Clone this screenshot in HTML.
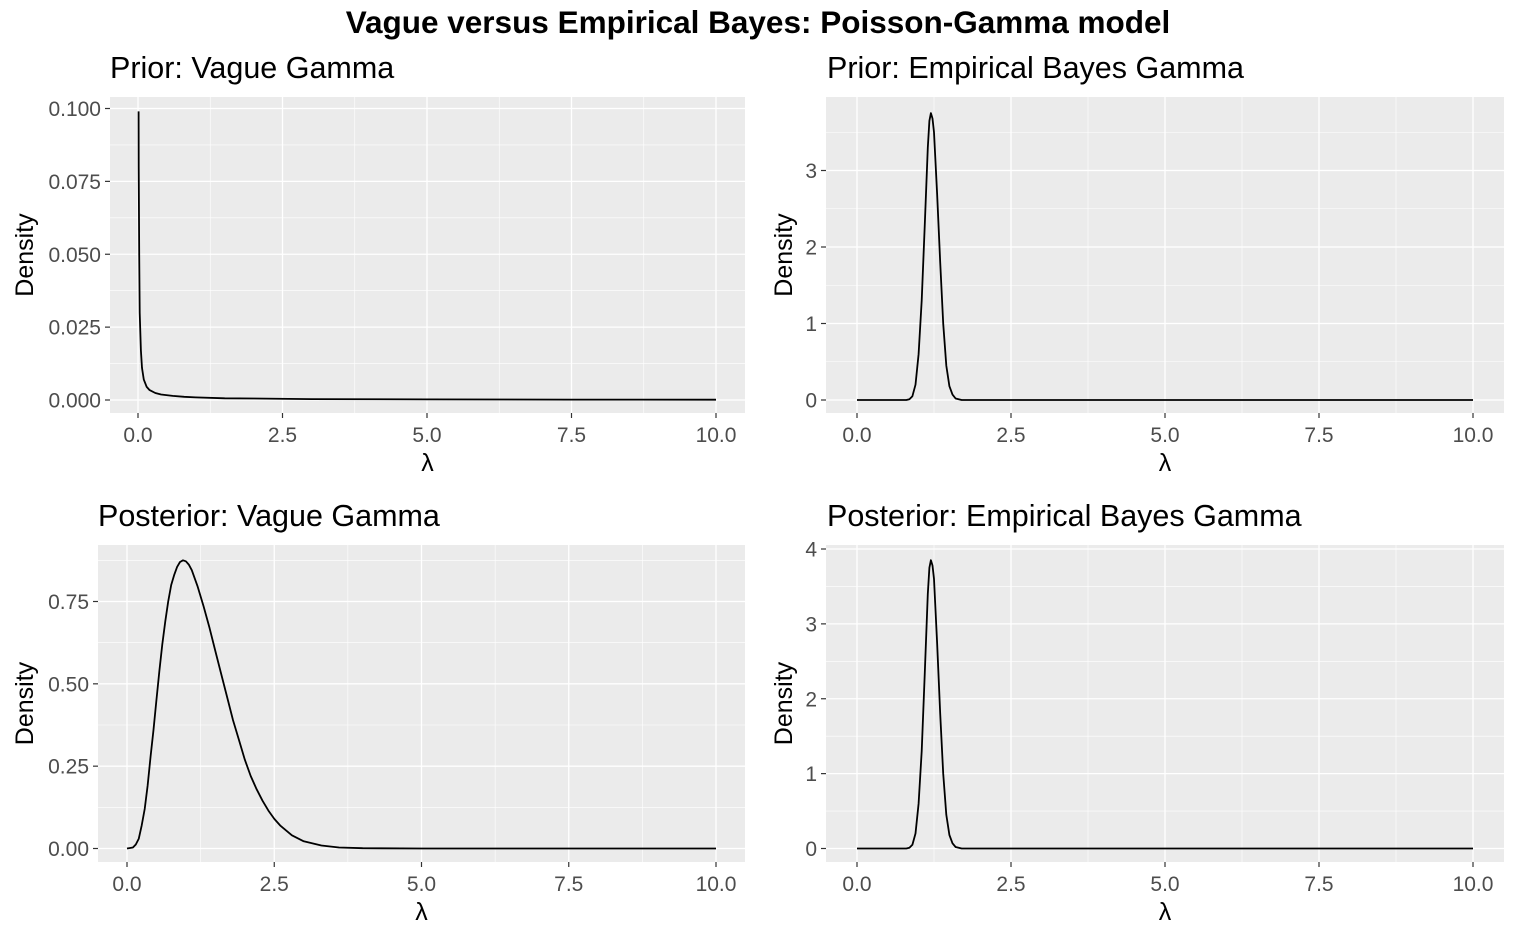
<!DOCTYPE html>
<html><head><meta charset="utf-8"><style>
body{margin:0;background:#fff;font-family:"Liberation Sans",sans-serif}
</style></head><body>
<svg width="1517" height="939" xmlns="http://www.w3.org/2000/svg" font-family="Liberation Sans, sans-serif">
<text x="758" y="33" text-anchor="middle" font-size="31.5" font-weight="bold">Vague versus Empirical Bayes: Poisson-Gamma model</text>
<g id="root"></g>
</svg>
<script>
const xTicks=[0,2.5,5,7.5,10];
const xTickLabels=["0.0","2.5","5.0","7.5","10.0"];
const p1Y=[0,0.025,0.05,0.075,0.1];
const p1YLabels=["0.000","0.025","0.050","0.075","0.100"];
const p2Y=[0,1,2,3];
const p2YLabels=["0","1","2","3"];
const p3Y=[0,0.25,0.5,0.75];
const p3YLabels=["0.00","0.25","0.50","0.75"];
const p4Y=[0,1,2,3,4];
const p4YLabels=["0","1","2","3","4"];
const priorVagueX=[0.01,0.012,0.02,0.03,0.05,0.07,0.1,0.15,0.2,0.3,0.4,0.6,0.8,1,1.5,2,3,5,7.5,10];
const priorVagueY=[0.099,0.08,0.05,0.03,0.017,0.011,0.007,0.0045,0.0034,0.0024,0.0019,0.0014,0.0011,0.0009,0.0006,0.0005,0.0003,0.0002,0.00015,0.0001];
const ebX=[0,0.8,0.85,0.9,0.95,1.0,1.05,1.1,1.15,1.175,1.2,1.225,1.25,1.3,1.35,1.4,1.45,1.5,1.55,1.6,1.7,10];
const priorEbY=[0,0,0.01,0.05,0.2,0.6,1.3,2.3,3.3,3.65,3.75,3.68,3.5,2.7,1.8,1.0,0.45,0.18,0.07,0.02,0,0];
const postEbY=[0,0,0.01,0.05,0.2,0.6,1.3,2.35,3.4,3.75,3.85,3.78,3.6,2.75,1.8,1.0,0.45,0.18,0.07,0.02,0,0];
const postVagueX=[0,0.1,0.15,0.2,0.25,0.3,0.35,0.4,0.45,0.5,0.55,0.6,0.65,0.7,0.75,0.8,0.85,0.9,0.95,1.0,1.05,1.1,1.2,1.3,1.4,1.5,1.6,1.7,1.8,1.9,2.0,2.1,2.2,2.3,2.4,2.5,2.6,2.8,3.0,3.3,3.6,4,5,10];
const postVagueY=[0,0.003,0.012,0.03,0.07,0.12,0.19,0.28,0.36,0.45,0.54,0.62,0.69,0.75,0.8,0.83,0.855,0.87,0.875,0.872,0.862,0.845,0.795,0.735,0.67,0.6,0.53,0.46,0.39,0.33,0.27,0.22,0.18,0.145,0.115,0.09,0.07,0.04,0.022,0.009,0.003,0.001,0,0];

const NS="http://www.w3.org/2000/svg";
const root=document.getElementById('root');
function mk(tag,attrs,parent){const e=document.createElementNS(NS,tag);for(const k in attrs)e.setAttribute(k,attrs[k]);(parent||root).appendChild(e);return e;}

const panels=[
 {name:"prior-vague",title:"Prior: Vague Gamma",tx:110,L:110,R:745,T:97,B:413,x0:138,x10:716,y0:400,yTop:108.5,yTopVal:0.1,yt:p1Y,yl:p1YLabels,minor:0.0125,ymax:0.1,xs:priorVagueX,ys:priorVagueY},
 {name:"prior-eb",title:"Prior: Empirical Bayes Gamma",tx:827,L:826,R:1504,T:97,B:413,x0:857,x10:1473,y0:400,yTop:170.5,yTopVal:3,yt:p2Y,yl:p2YLabels,minor:0.5,ymax:3.5,xs:ebX,ys:priorEbY},
 {name:"posterior-vague",title:"Posterior: Vague Gamma",tx:98,L:98,R:745,T:545,B:862,x0:127,x10:716,y0:848.5,yTop:601.5,yTopVal:0.75,yt:p3Y,yl:p3YLabels,minor:0.125,ymax:0.875,xs:postVagueX,ys:postVagueY},
 {name:"posterior-eb",title:"Posterior: Empirical Bayes Gamma",tx:827,L:826,R:1504,T:545,B:862,x0:857,x10:1473,y0:848.5,yTop:549,yTopVal:4,yt:p4Y,yl:p4YLabels,minor:0.5,ymax:3.5,xs:ebX,ys:postEbY}
];
panels.forEach(p=>{
 const g=mk('g',{});
 
 
 const sx=v=>p.x0+(p.x10-p.x0)*v/10;
 const sy=v=>p.y0-(p.y0-p.yTop)*v/p.yTopVal;
 const t=mk('text',{x:p.tx,y:p.T-19,'font-size':30.5},g);t.textContent=p.title;
 
 
 const bg=mk('rect',{x:p.L,y:p.T,width:p.R-p.L,height:p.B-p.T,fill:'#EBEBEB'},g);
 
 
 for(let v=p.minor;v<=p.ymax+1e-9;v+=p.minor*2){mk('line',{x1:p.L,x2:p.R,y1:sy(v),y2:sy(v),stroke:'#fff','stroke-width':0.6},g);}
 [1.25,3.75,6.25,8.75].forEach(v=>mk('line',{x1:sx(v),x2:sx(v),y1:p.T,y2:p.B,stroke:'#fff','stroke-width':0.6},g));
 p.yt.forEach((v,i)=>{
  mk('line',{x1:p.L,x2:p.R,y1:sy(v),y2:sy(v),stroke:'#fff','stroke-width':1.3},g);
  mk('line',{x1:p.L-5,x2:p.L,y1:sy(v),y2:sy(v),stroke:'#333','stroke-width':1.2},g);
  const l=mk('text',{x:p.L-9,y:sy(v)+7.5,'font-size':21,fill:'#4D4D4D','text-anchor':'end'},g);l.textContent=p.yl[i];
  
  
 });
 xTicks.forEach((v,i)=>{
  mk('line',{x1:sx(v),x2:sx(v),y1:p.T,y2:p.B,stroke:'#fff','stroke-width':1.3},g);
  mk('line',{x1:sx(v),x2:sx(v),y1:p.B,y2:p.B+5,stroke:'#333','stroke-width':1.2},g);
  const l=mk('text',{x:sx(v),y:p.B+29,'font-size':21,fill:'#4D4D4D','text-anchor':'middle'},g);l.textContent=xTickLabels[i];
  
  
 });
 const xt=mk('text',{x:(p.L+p.R)/2,y:p.B+58,'font-size':25,'text-anchor':'middle'},g);xt.textContent='λ';
 
 
 const cy=(p.T+p.B)/2;
 const yt=mk('text',{x:0,y:0,'font-size':25,'text-anchor':'middle'},g);yt.textContent='Density';
 yt.setAttribute('transform',`translate(${p.L<200?33:792},${cy}) rotate(-90)`);
 
 
 const pts=p.xs.map((x,i)=>sx(x).toFixed(1)+','+sy(p.ys[i]).toFixed(1)).join(' ');
 const pl=mk('polyline',{points:pts,fill:'none',stroke:'#000','stroke-width':1.8,'stroke-linejoin':'round'},g);
 
 
});
</script>
</body></html>
